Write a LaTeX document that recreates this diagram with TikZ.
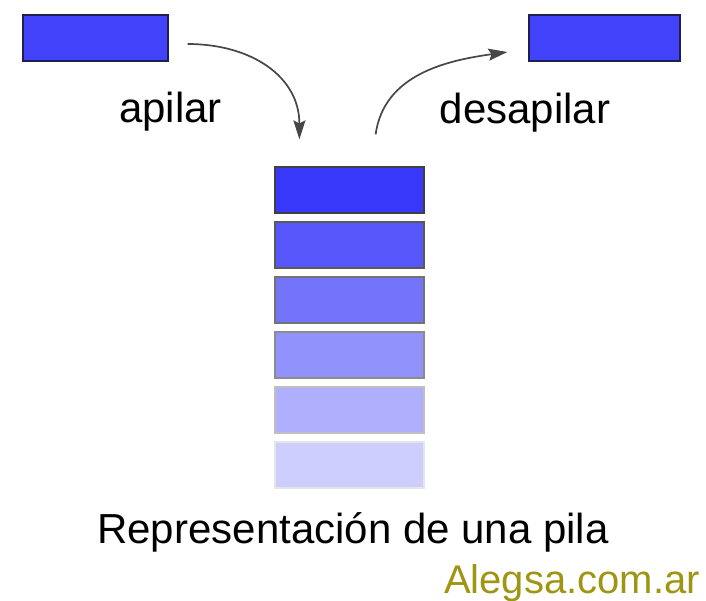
\documentclass[tikz,border=0pt]{standalone}
\usepackage{fontspec}
\setmainfont{Liberation Sans}
\usetikzlibrary{arrows.meta}
\definecolor{pilablue}{RGB}{56,56,250}
\definecolor{pilaedge}{RGB}{30,30,80}
\definecolor{alegsa}{RGB}{158,150,18}

\begin{document}
\begin{tikzpicture}[
        x = 1pt, y = 1pt,
        mbox/.style = {draw = pilaedge, line width = 1.2pt, fill = pilablue!95!white, minimum width = 145pt, minimum height = 46pt, inner sep = 0pt},
        mlabel/.style = {font = \fontsize{42}{48}\selectfont, anchor = base, inner sep = 0pt},
        marrow/.style = {draw = black!72, line width = 1.7pt, -{Stealth[length = 19pt, width = 12pt, inset = 3pt]}}
    ]
        \useasboundingbox (0,0) rectangle (706,600);

        \node[mbox] (inbox) at (95.5,562) {};
        \node[mbox, minimum width = 151pt] (outbox) at (604.5,562) {};

        \foreach \i/\pct/\edge in {1/100/75, 2/85/65, 3/70/55, 4/55/45, 5/40/25, 6/25/10}
            \node[mbox, fill = pilablue!\pct!white, draw = black!\edge, minimum width = 149pt] (s\i) at (349.5,{410 - 55*(\i-1)}) {};

        \node[mlabel] (apilar) at (170.5,477) {apilar};
        \node[mlabel] (desapilar) at (525,476) {desapilar};
        \node[mlabel] (titulo) at (353,57) {Representación de una pila};
        \node[mlabel, font = \fontsize{40}{46}\selectfont, text = alegsa, anchor = base east] (alegsa) at (700,7) {Alegsa.com.ar};

        \draw[marrow] ([xshift = 19pt, yshift = -6pt]inbox.east) to[out = 0, in = 90, looseness = 1.1] ([xshift = 25pt, yshift = 27pt]s1.north west);
        \draw[marrow] ([xshift = -49pt, yshift = 32pt]s1.north east) to[out = 82, in = 188, looseness = 1] ([xshift = -21pt, yshift = -14pt]outbox.west);

    \end{tikzpicture}
\end{document}
